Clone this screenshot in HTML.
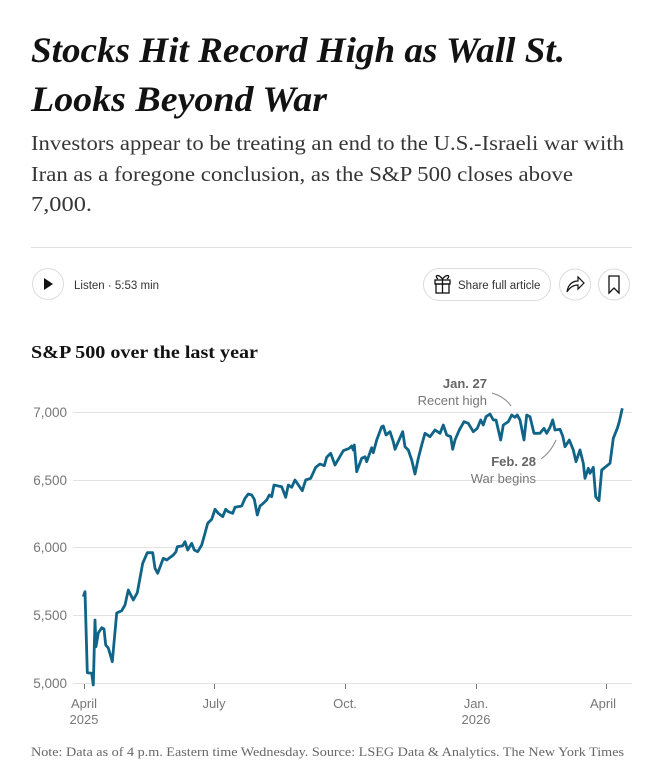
<!DOCTYPE html>
<html><head><meta charset="utf-8"><style>
body{margin:0;background:#fff;width:649px;height:775px;overflow:hidden;}
svg{display:block}
</style></head><body>
<svg width="649" height="775" viewBox="0 0 649 775" xmlns="http://www.w3.org/2000/svg">
<g font-family="Liberation Serif, serif" font-weight="bold" font-style="italic" font-size="36" fill="#121212">
<text x="31" y="62" textLength="534" lengthAdjust="spacingAndGlyphs">Stocks Hit Record High as Wall St.</text>
<text x="31" y="111" textLength="296" lengthAdjust="spacingAndGlyphs">Looks Beyond War</text>
</g>
<g font-family="Liberation Serif, serif" font-size="21.5" fill="#363636">
<text x="31" y="150" textLength="593" lengthAdjust="spacingAndGlyphs">Investors appear to be treating an end to the U.S.-Israeli war with</text>
<text x="31" y="181" textLength="542" lengthAdjust="spacingAndGlyphs">Iran as a foregone conclusion, as the S&amp;P 500 closes above</text>
<text x="31" y="211" textLength="61" lengthAdjust="spacingAndGlyphs">7,000.</text>
</g>
<line x1="31" y1="247.5" x2="632" y2="247.5" stroke="#dfdfdf"/>
<circle cx="48" cy="284" r="15.5" fill="#fff" stroke="#dcdcdc"/>
<polygon points="44,278 44,290 53,284" fill="#121212"/>
<text x="74" y="289" font-family="Liberation Sans, sans-serif" font-size="11.5" fill="#333">Listen · 5:53 min</text>
<rect x="423.5" y="268.5" width="127" height="32" rx="16" fill="#fff" stroke="#dcdcdc"/>
<g stroke="#121212" stroke-width="1.3" fill="none"><rect x="435" y="280" width="15" height="4"/><rect x="436" y="284" width="13" height="9"/><line x1="442.5" y1="279" x2="442.5" y2="293"/><path d="M442.5 279 C438 273,434 276,438 279 M442.5 279 C447 273,451 276,447 279"/></g>
<text x="458" y="289" font-family="Liberation Sans, sans-serif" font-size="11.5" fill="#333">Share full article</text>
<circle cx="575" cy="284.5" r="15.5" fill="#fff" stroke="#dcdcdc"/>
<path d="M567 292 C568 284,573 281,578 281 L578 277 L584 283 L578 289 L578 285 C574 285,570 287,567 292 Z" fill="none" stroke="#121212" stroke-width="1.2"/>
<circle cx="614" cy="284.5" r="15.5" fill="#fff" stroke="#dcdcdc"/>
<path d="M609 276 L619 276 L619 293 L614 288 L609 293 Z" fill="none" stroke="#121212" stroke-width="1.3"/>
<text x="31" y="358" font-family="Liberation Serif, serif" font-weight="bold" font-size="17.5" fill="#121212" textLength="227" lengthAdjust="spacingAndGlyphs">S&amp;P 500 over the last year</text>
<g stroke="#e2e2e2" stroke-width="1">
<line x1="73" y1="412.5" x2="632" y2="412.5"/>
<line x1="73" y1="480.5" x2="632" y2="480.5"/>
<line x1="73" y1="547.5" x2="632" y2="547.5"/>
<line x1="73" y1="615.5" x2="632" y2="615.5"/>
<line x1="73" y1="683.5" x2="632" y2="683.5"/>
</g>
<g font-family="Liberation Sans, sans-serif" font-size="13.5" fill="#777" text-anchor="end">
<text x="67" y="417">7,000</text><text x="67" y="485">6,500</text><text x="67" y="552">6,000</text><text x="67" y="620">5,500</text><text x="67" y="688">5,000</text>
</g>
<g stroke="#777" stroke-width="1"><line x1="84.5" y1="684" x2="84.5" y2="689"/><line x1="214.5" y1="684" x2="214.5" y2="689"/><line x1="345.5" y1="684" x2="345.5" y2="689"/><line x1="476.5" y1="684" x2="476.5" y2="689"/><line x1="606.5" y1="684" x2="606.5" y2="689"/></g>
<g font-family="Liberation Sans, sans-serif" font-size="13" fill="#777" text-anchor="middle">
<text x="84" y="708">April</text><text x="84" y="724">2025</text><text x="214" y="708">July</text><text x="345" y="708">Oct.</text><text x="476" y="708">Jan.</text><text x="476" y="724">2026</text><text x="603" y="708">April</text>
</g>
<polyline fill="none" stroke="#0f6488" stroke-width="2.8" stroke-linejoin="round" points="83.3,596.7 85,591.7 87.3,672.7 91.7,673.3 93.3,685 95,620 96,646.7 98.3,633 101.7,627.7 104,629 105.7,645 108.3,648 112.3,661.7 116.7,613 121.7,610.7 125,605 128.3,590 133.3,600 137.3,592.7 142.7,563.3 147.3,552.7 152.7,552.7 155,568.3 157.7,573.3 163.3,558.3 166.7,560 173.3,555 176,551.7 177.3,546.7 182.7,545.7 185,541.7 187.7,550 191.7,543.3 194.3,550 197.7,551.7 201.7,545 205,533.3 207.7,523.3 211.7,519.3 215,509.3 218.3,513.3 222.7,516.7 225.7,509.3 228.3,511.7 232.7,513.3 235,507.3 241.7,506 245,498.3 248.3,494 251.7,495 254.3,499.3 257.3,515 260,506 263.3,503.3 266.7,500 269.3,495 271.7,496.7 274,485 278.3,486 281.7,486.7 285.7,497.3 288.3,485 291.7,487.3 295,480 302.3,490.7 305.7,480 310.7,478.3 315.7,467.3 320,464 324.3,465.7 326.7,457.3 330.7,453.3 335,465 338.3,459.3 343.3,450.7 349.3,448.3 351.7,446 353.3,450 354.3,445 356.7,471.7 361.7,458.3 365,456.7 366.7,461.7 371.7,447.7 373.3,452.7 376.7,440 381.7,426.7 383.3,426 386,435 390,431.7 393.3,441.7 395,449.3 398.3,441.7 402.7,431.7 405,446.7 408.3,450 411.7,460 415,474 418.3,458.3 421.7,445 425,433.3 430,436.7 435,430 440,433.3 443.3,425 446.7,435 450.7,436.7 452.7,449.3 455,440 459.3,430 464,421.7 468.3,423.3 473.3,431.7 477.3,428.3 480.7,420 483.3,425 486,416.7 490,414 493.3,420 496,420 500.7,440 503.3,425 508.3,421.7 511.7,415 515,417.3 517.3,415 520,420 524,440 526.7,415 530,416.7 534,433.3 540,433.3 544,428.3 546.7,433.3 550,427.3 552.7,420 555,430 560,429.3 562.7,436 565,446.7 569.3,440 573.3,450 576,461.7 580,450 583.3,463.3 585,478.3 588.3,468.3 590,473.3 593.3,467.3 595.7,496.7 599,500.7 601.7,470 610,463.3 613.3,438.3 617.3,428.3 619.3,421.7 622.3,408.3"/>
<g font-family="Liberation Sans, sans-serif" font-size="13" text-anchor="end">
<text x="487" y="388" font-weight="bold" fill="#666">Jan. 27</text>
<text x="487" y="405" fill="#777">Recent high</text>
<text x="536" y="466" font-weight="bold" fill="#666">Feb. 28</text>
<text x="536" y="483" fill="#777">War begins</text>
</g>
<path d="M492 393 Q505 397 511 406" fill="none" stroke="#888" stroke-width="1"/>
<path d="M541 459 Q551 452 556 440" fill="none" stroke="#888" stroke-width="1"/>
<text x="31" y="756" font-family="Liberation Serif, serif" font-size="12.5" fill="#666" textLength="593" lengthAdjust="spacingAndGlyphs">Note: Data as of 4 p.m. Eastern time Wednesday.  Source: LSEG Data &amp; Analytics.  The New York Times</text>
</svg>
</body></html>
